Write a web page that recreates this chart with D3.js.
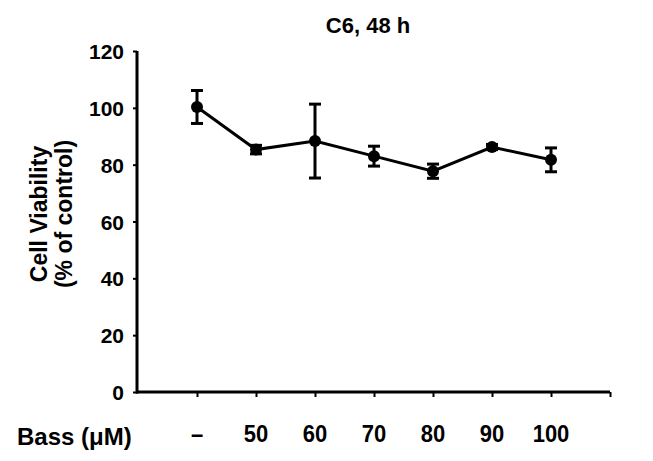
<!DOCTYPE html>
<html><head><meta charset="utf-8">
<script src="https://cdn.jsdelivr.net/npm/d3@7"></script>
<style>body{margin:0;background:#fff}svg text{font-family:"Liberation Sans",Arial,sans-serif;font-weight:bold;fill:#000}</style>
</head><body><svg id="c" width="653" height="461"></svg>
<script>
const categories = ["\u2013", "50", "60", "70", "80", "90", "100"];
const values = [100.3, 85.3, 88.3, 83.0, 77.7, 86.2, 81.7];
const errors = [5.8, 1.5, 13.0, 3.5, 2.5, 0.9, 4.2];
const yTicks = [0, 20, 40, 60, 80, 100, 120];
const title = "C6, 48 h";
const yTitle = ["Cell Viability", "(% of control)"];
const xTitle = "Bass (\u03bcM)";

const svg = d3.select("#c");
const x = d3.scaleLinear().domain([-1, 7]).range([138, 610]);
const y = d3.scaleLinear().domain([0, 120]).range([392, 51]);

// y axis
const ya = svg.append("g").attr("transform", "translate(137,0)")
  .call(d3.axisLeft(y).tickValues(yTicks).tickSize(4).tickPadding(9).tickFormat(d3.format("d")));
ya.select(".domain").attr("stroke-width", 3).attr("d", `M0,${y(120)}V${y(0)+1.5}`);
ya.selectAll(".tick line").attr("stroke-width", 2);
ya.selectAll(".tick text").style("font-size", "21px").attr("dy", "0.36em");

// x axis
const xa = svg.append("g").attr("transform", `translate(0,${y(0)})`)
  .call(d3.axisBottom(x).tickValues(d3.range(0, 8)).tickSize(5).tickFormat(""));
xa.select(".domain").attr("stroke-width", 3).attr("d", `M136,0H${x(7)}`);
xa.selectAll(".tick line").attr("stroke-width", 2);

// category labels
svg.append("g").selectAll("text").data(categories).join("text")
  .attr("transform", (d, i) => `translate(${x(i)},442) scale(1,1.08)`).attr("text-anchor", "middle")
  .style("font-size", "22px").text(d => d);
svg.append("text").attr("x", 17).attr("y", 445).style("font-size", "24px").text(xTitle);

// title
svg.append("text").attr("x", 368).attr("y", 33).attr("text-anchor", "middle").style("font-size", "22px").text(title);

// y title
svg.append("text").attr("transform", "translate(47,214) rotate(-90)").attr("text-anchor", "middle")
  .style("font-size", "23px").text(yTitle[0]);
svg.append("text").attr("transform", "translate(72,214) rotate(-90)").attr("text-anchor", "middle")
  .style("font-size", "23px").text(yTitle[1]);

// line
svg.append("path").datum(values)
  .attr("d", d3.line().x((d, i) => x(i)).y(d => y(d)))
  .attr("fill", "none").attr("stroke", "#000").attr("stroke-width", 3);

// error bars
const eb = svg.append("g").selectAll("g").data(values).join("g");
eb.append("line").attr("x1", (d, i) => x(i)).attr("x2", (d, i) => x(i))
  .attr("y1", (d, i) => y(d + errors[i])).attr("y2", (d, i) => y(d - errors[i]))
  .attr("stroke", "#000").attr("stroke-width", 3);
eb.append("line").attr("x1", (d, i) => x(i) - 6).attr("x2", (d, i) => x(i) + 6)
  .attr("y1", (d, i) => y(d + errors[i])).attr("y2", (d, i) => y(d + errors[i]))
  .attr("stroke", "#000").attr("stroke-width", 3);
eb.append("line").attr("x1", (d, i) => x(i) - 6).attr("x2", (d, i) => x(i) + 6)
  .attr("y1", (d, i) => y(d - errors[i])).attr("y2", (d, i) => y(d - errors[i]))
  .attr("stroke", "#000").attr("stroke-width", 3);

// markers
svg.append("g").selectAll("circle").data(values).join("circle")
  .attr("cx", (d, i) => x(i)).attr("cy", d => y(d)).attr("r", 6).attr("fill", "#000");
</script></body></html>
